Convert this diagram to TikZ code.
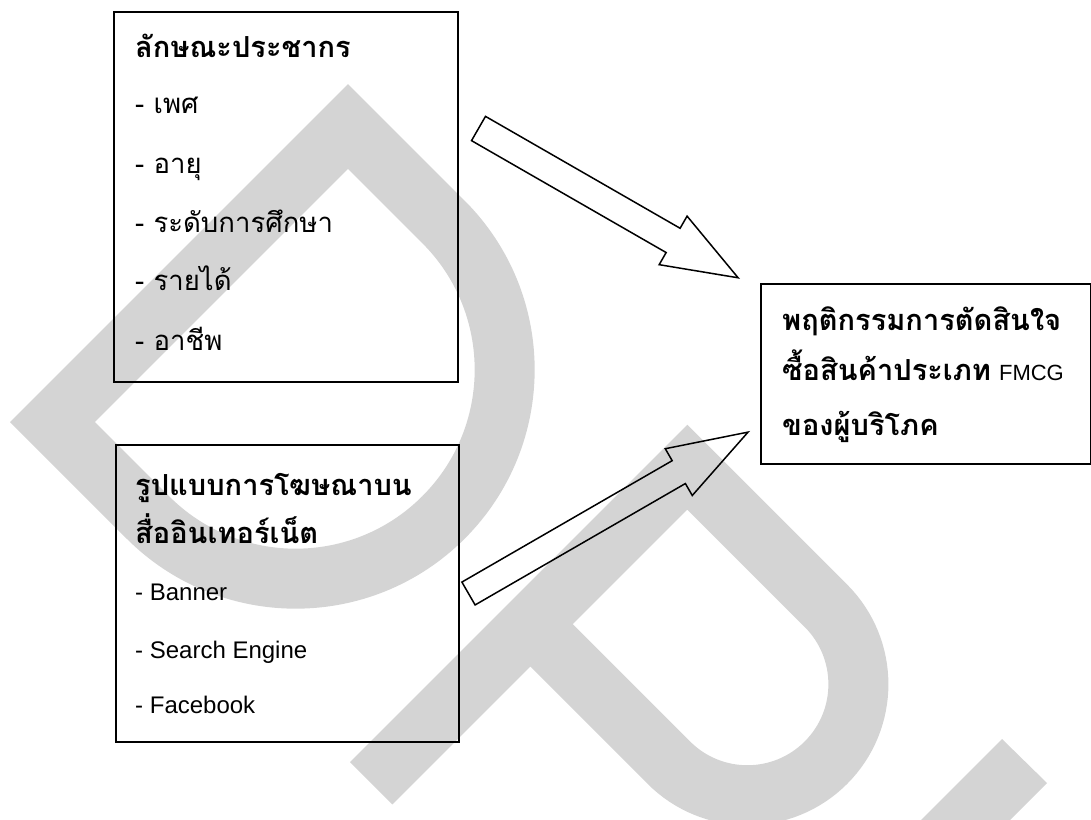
\documentclass[tikz,border=0pt]{standalone}
\usepackage{fontspec}
\setmainfont{Liberation Sans}
\newfontfamily\thai[Script=Thai]{Loma}
\definecolor{wm}{RGB}{212,212,212}
\tikzset{
  box/.style={draw=black, line width=1.6pt, inner sep=0pt, anchor=north west},
  ttl/.style={anchor=base west, inner sep=0pt, font=\thai\bfseries\fontsize{29}{31}\selectfont},
  itm/.style={anchor=base west, inner sep=0pt, font=\thai\fontsize{27.5}{29}\selectfont},
  lat/.style={anchor=base west, inner sep=0pt, font=\fontsize{24}{26}\selectfont},
  blk/.style={draw=black, line width=1.5pt, line join=miter},
  wmk/.style={draw=wm, line width=60pt, line join=miter},
}
\begin{document}
\begin{tikzpicture}[x=1pt,y=-1pt]
\useasboundingbox (0,0) rectangle (1091,819);
\clip (0,0) rectangle (1091,819);
% watermark D
\begin{scope}[shift={(10pt,-422pt)}, x={(0.7071pt,0.7071pt)}, y={(0.7071pt,-0.7071pt)}]
  \draw[wmk] (239,30) -- (448,30) -- (448,165) arc[start angle=0, end angle=180, radius=209] -- (30,30) -- cycle;
\end{scope}
% watermark P
\begin{scope}[shift={(350pt,-762pt)}, x={(0.7071pt,0.7071pt)}, y={(0.7071pt,-0.7071pt)}]
  \draw[wmk] (0,30) -- (447,30) -- (447,226) arc[start angle=0, end angle=180, radius=111] -- (225,30);
\end{scope}
% watermark dot
\fill[wm] (1002,739) -- (1047,783) -- (947,883) -- (902,839) -- cycle;

% boxes
\node[box, minimum width=344pt, minimum height=370pt] (b1) at (113,11) {};
\node[box, minimum width=343pt, minimum height=297pt] (b2) at (115,444) {};
\node[box, minimum width=330pt, minimum height=180pt] (b3) at (760,283) {};

% box 1 text
\node[ttl] (t1) at (135,57) {ลักษณะประชากร};
\node[itm] (i11) at (135,113) {- เพศ};
\node[itm] (i12) at (135,173) {- อายุ};
\node[itm] (i13) at (135,232) {- ระดับการศึกษา};
\node[itm] (i14) at (135,290) {- รายได้};
\node[itm] (i15) at (135,350) {- อาชีพ};

% box 2 text
\node[ttl] (t2a) at (135,495) {รูปแบบการโฆษณาบน};
\node[ttl] (t2b) at (135,543) {สื่ออินเทอร์เน็ต};
\node[lat] (i21) at (135,600) {- Banner};
\node[lat] (i22) at (135,658) {- Search Engine};
\node[lat] (i23) at (135,713) {- Facebook};

% box 3 text
\node[ttl] (t3a) at (782,330) {พฤติกรรมการตัดสินใจ};
\node[ttl] (t3b) at (782,380) {ซื้อสินค้าประเภท\hspace{8pt}{\normalfont\fontsize{22}{24}\selectfont FMCG}};
\node[ttl] (t3c) at (782,435) {ของผู้บริโภค};

% block arrows
\begin{scope}[shift={(478.5pt,-128.5pt)}, rotate=-29.9]
  \draw[blk] (0,14) -- (224.5,14) -- (224.5,28) -- (299.5,0) -- (224.5,-28) -- (224.5,-14) -- (0,-14) -- cycle;
\end{scope}
\begin{scope}[shift={(468.5pt,-593.5pt)}, rotate=30.0]
  \draw[blk] (0,13.2) -- (242.8,13.2) -- (242.8,27) -- (322.8,0) -- (242.8,-27) -- (242.8,-13.2) -- (0,-13.2) -- cycle;
\end{scope}
\end{tikzpicture}
\end{document}
